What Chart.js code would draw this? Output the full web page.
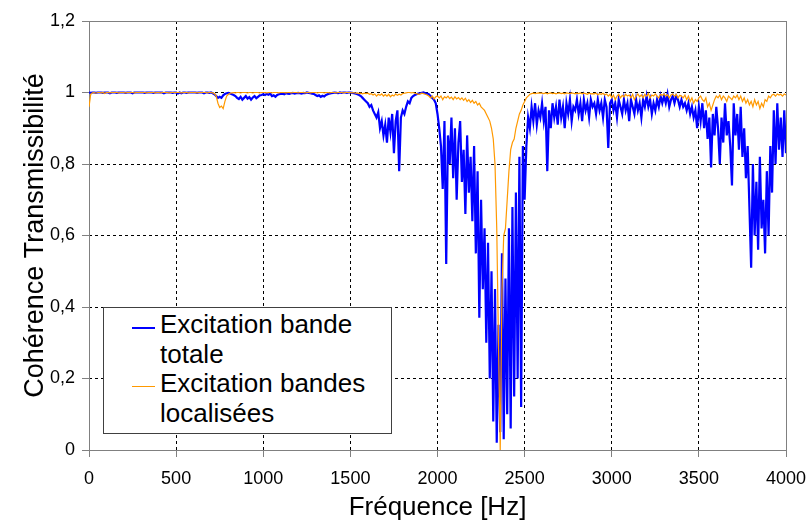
<!DOCTYPE html>
<html>
<head>
<meta charset="utf-8">
<script src="https://cdn.jsdelivr.net/npm/chart.js@4/dist/chart.umd.min.js"></script>
<style>
  html, body { margin: 0; padding: 0; background: #fff; }
  #wrap { position: relative; width: 807px; height: 524px; }
  #legend {
    position: absolute; left: 103px; top: 307px; width: 287px; height: 125px;
    border: 1px solid #404040; background: #fff;
    font-family: "Liberation Sans", Arial, sans-serif; font-size: 26px; color: #000;
  }
  #legend .txt { position: absolute; left: 56px; top: 2px; line-height: 29.5px; white-space: nowrap; }
  #legend .sw { position: absolute; left: 28px; width: 23px; }
</style>
</head>
<body>
<div id="wrap">
  <canvas id="c" width="807" height="524"></canvas>
  <div id="legend">
    <div class="sw" style="top:19px;height:2px;background:#0000ff;"></div>
    <div class="sw" style="top:78px;height:1px;background:#ff9900;"></div>
    <div class="txt">Excitation bande<br>totale<br>Excitation bandes<br>localisées</div>
  </div>
</div>
<script>
// Frequency axis (Hz), one sample every 10 Hz from 0 to 4000
const frequencies = [];
for (let f = 0; f <= 4000; f += 10) frequencies.push(f);

// Coherence, "Excitation bande totale" (rows of 100 Hz)
const bandeTotale = [
  1.0, 0.999, 1.0, 1.0, 0.999, 1.0, 1.0, 1.0, 0.999, 1.0,
  1.0, 1.0, 0.998, 1.0, 1.0, 1.0, 0.999, 1.0, 1.0, 1.0,
  1.0, 0.999, 1.0, 1.0, 1.0, 0.998, 1.0, 1.0, 1.0, 1.0,
  1.0, 1.0, 0.999, 1.0, 1.0, 1.0, 1.0, 0.999, 1.0, 1.0,
  1.0, 1.0, 1.0, 0.998, 1.0, 1.0, 1.0, 1.0, 0.999, 1.0,
  1.0, 0.997, 1.0, 0.998, 1.0, 1.0, 0.999, 1.0, 1.0, 1.0,
  1.0, 1.0, 0.999, 1.0, 1.0, 1.0, 0.998, 1.0, 1.0, 0.999,
  1.0, 0.998, 0.995, 0.99, 0.985, 0.988, 0.985, 0.992, 0.996, 0.998,
  0.999, 0.997, 0.995, 0.993, 0.99, 0.985, 0.982, 0.988, 0.98, 0.985,
  0.99, 0.983, 0.987, 0.98, 0.986, 0.99, 0.984, 0.988, 0.992, 0.993,
  0.995, 0.993, 0.996, 0.994, 0.997, 0.99, 0.992, 0.988, 0.993, 0.995,
  0.996, 0.997, 0.995, 0.998, 0.997, 0.996, 0.998, 0.999, 0.997, 0.998,
  0.999, 0.998, 0.997, 0.999, 0.998, 1.0, 0.999, 0.998, 0.997, 0.996,
  0.993, 0.99, 0.992, 0.988, 0.991, 0.989, 0.993, 0.995, 0.997, 0.998,
  0.999, 1.0, 0.999, 0.998, 1.0, 0.999, 1.0, 1.0, 0.999, 1.0,
  1.0, 0.999, 0.998, 0.997, 0.995, 0.993, 0.99, 0.985, 0.98, 0.975,
  0.97, 0.96, 0.965, 0.95, 0.94, 0.93, 0.945, 0.9, 0.92, 0.88,
  0.91, 0.86, 0.93, 0.89, 0.94, 0.83, 0.92, 0.95, 0.78, 0.93,
  0.95, 0.94, 0.96, 0.975, 0.97, 0.985, 0.99, 0.993, 0.995, 0.997,
  0.998, 0.999, 1.0, 0.998, 0.997, 0.995, 0.99, 0.985, 0.98, 0.97,
  0.94, 0.9, 0.85, 0.73, 0.92, 0.52, 0.88, 0.8, 0.93, 0.76,
  0.9, 0.7, 0.86, 0.92, 0.75, 0.84, 0.66, 0.88, 0.72, 0.82,
  0.64, 0.85, 0.55, 0.78, 0.37, 0.7, 0.45, 0.62, 0.3, 0.58,
  0.2, 0.5, 0.08, 0.45, 0.02, 0.35, 0.05, 0.55, 0.03, 0.48,
  0.1, 0.62, 0.06, 0.68, 0.15, 0.72, 0.2, 0.82, 0.12, 0.85,
  0.7, 0.85, 0.93, 0.9, 0.96, 0.92, 0.97, 0.91, 0.95, 0.93,
  0.97, 0.92, 0.96, 0.78, 0.95, 0.9, 0.97, 0.93, 0.96, 0.91,
  0.98, 0.93, 0.96, 0.9, 0.97, 0.94, 0.98, 0.92, 0.96, 0.95,
  0.98, 0.94, 0.97, 0.92, 0.98, 0.95, 0.97, 0.93, 0.98, 0.96,
  0.97, 0.94, 0.98, 0.95, 0.97, 0.93, 0.98, 0.96, 0.845, 0.97,
  0.98, 0.95, 0.97, 0.93, 0.98, 0.96, 0.94, 0.98, 0.95, 0.97,
  0.92, 0.98, 0.96, 0.94, 0.98, 0.95, 0.97, 0.93, 0.98, 0.96,
  0.99, 0.96, 0.98, 0.94, 0.97, 0.95, 0.98, 0.96, 0.99, 0.97,
  0.99, 0.97, 0.995, 0.96, 0.98, 0.99, 0.97, 0.99, 0.98, 0.96,
  0.98, 0.96, 0.97, 0.95, 0.97, 0.94, 0.96, 0.93, 0.95, 0.9,
  0.96, 0.92, 0.97, 0.9, 0.95, 0.87, 0.93, 0.79, 0.94, 0.88,
  0.96, 0.9, 0.8, 0.93, 0.86, 0.97, 0.88, 0.92, 0.85, 0.74,
  0.97, 0.88, 0.94, 0.84, 0.96, 0.82, 0.9, 0.76, 0.85, 0.68,
  0.51, 0.8, 0.6, 0.75, 0.56, 0.82, 0.62, 0.7, 0.55, 0.78,
  0.6, 0.85, 0.72, 0.95, 0.8, 0.97, 0.84, 0.93, 0.82, 0.95,
  0.83
];

// Coherence, "Excitation bandes localisées" (rows of 100 Hz)
const bandesLocalisees = [
  0.96, 0.995, 0.999, 1.0, 0.998, 1.0, 1.0, 0.999, 1.0, 0.997,
  1.0, 1.0, 0.999, 1.0, 1.0, 1.0, 1.0, 0.999, 1.0, 1.0,
  1.0, 0.999, 1.0, 1.0, 1.0, 1.0, 0.999, 1.0, 1.0, 1.0,
  1.0, 1.0, 1.0, 0.999, 1.0, 1.0, 1.0, 1.0, 0.999, 1.0,
  1.0, 0.999, 1.0, 1.0, 1.0, 1.0, 0.999, 1.0, 1.0, 1.0,
  1.0, 1.0, 1.0, 0.999, 1.0, 1.0, 1.0, 0.999, 1.0, 1.0,
  1.0, 1.0, 0.999, 1.0, 1.0, 1.0, 1.0, 1.0, 0.999, 1.0,
  1.0, 0.999, 0.997, 0.99, 0.97, 0.958, 0.962, 0.955, 0.975, 0.99,
  0.995, 0.998, 0.999, 1.0, 0.999, 1.0, 1.0, 0.999, 1.0, 1.0,
  1.0, 0.999, 1.0, 1.0, 0.999, 1.0, 1.0, 1.0, 0.999, 1.0,
  1.0, 1.0, 0.999, 1.0, 1.0, 0.999, 1.0, 1.0, 1.0, 0.999,
  1.0, 1.0, 1.0, 0.999, 1.0, 1.0, 0.999, 1.0, 1.0, 1.0,
  0.999, 1.0, 1.0, 1.0, 0.999, 1.0, 1.0, 0.999, 1.0, 1.0,
  1.0, 0.999, 1.0, 1.0, 1.0, 0.999, 1.0, 1.0, 0.999, 1.0,
  1.0, 1.0, 0.999, 1.0, 1.0, 1.0, 0.999, 1.0, 1.0, 1.0,
  1.0, 0.999, 1.0, 0.998, 0.999, 0.997, 0.998, 0.996, 0.998, 0.997,
  0.998, 0.995, 0.997, 0.993, 0.996, 0.99, 0.995, 0.992, 0.996, 0.99,
  0.994, 0.99, 0.995, 0.988, 0.993, 0.99, 0.996, 0.992, 0.995, 0.993,
  0.997, 0.998, 0.999, 1.0, 1.0, 0.999, 1.0, 0.998, 0.997, 0.995,
  0.996, 0.998, 0.997, 0.995, 0.993, 0.99, 0.985, 0.99, 0.982, 0.988,
  0.99, 0.985, 0.99, 0.98, 0.988, 0.985, 0.99, 0.983, 0.987, 0.98,
  0.988, 0.982, 0.986, 0.98, 0.985, 0.978, 0.984, 0.975, 0.98, 0.972,
  0.978, 0.97, 0.975, 0.965, 0.97, 0.96, 0.955, 0.95, 0.94, 0.93,
  0.92, 0.9, 0.87, 0.8, 0.62, 0.3, 0.0, 0.45, 0.6, 0.62,
  0.7, 0.78, 0.84, 0.86, 0.87, 0.9, 0.92, 0.94, 0.95, 0.965,
  0.975, 0.985, 0.99, 0.995, 0.997, 0.998, 0.997, 0.998, 0.999, 0.998,
  0.998, 0.997, 0.999, 0.996, 0.998, 0.999, 0.997, 0.998, 0.996, 0.998,
  0.999, 0.997, 0.998, 0.996, 0.999, 0.998, 0.997, 0.999, 0.998, 0.996,
  0.998, 0.997, 0.999, 0.996, 0.998, 0.997, 0.995, 0.998, 0.996, 0.997,
  0.996, 0.998, 0.994, 0.997, 0.995, 0.998, 0.993, 0.996, 0.99, 0.995,
  0.985, 0.993, 0.98, 0.99, 0.995, 0.985, 0.992, 0.988, 0.995, 0.99,
  0.993, 0.985, 0.995, 0.98, 0.99, 0.996, 0.988, 0.993, 0.985, 0.995,
  0.99, 0.997, 0.985, 0.993, 0.99, 0.996, 0.99, 0.985, 0.995, 0.992,
  0.996, 0.99, 0.994, 0.985, 0.993, 0.996, 0.99, 0.995, 0.985, 0.992,
  0.99, 0.985, 0.993, 0.98, 0.99, 0.975, 0.985, 0.97, 0.98, 0.975,
  0.985, 0.99, 0.98, 0.975, 0.985, 0.96, 0.97, 0.95, 0.965, 0.98,
  0.99, 0.985, 0.993, 0.98, 0.99, 0.985, 0.975, 0.99, 0.985, 0.98,
  0.99, 0.985, 0.993, 0.98, 0.99, 0.975, 0.985, 0.97, 0.98, 0.965,
  0.975, 0.96, 0.98, 0.965, 0.975, 0.955, 0.97, 0.96, 0.98, 0.975,
  0.99, 0.985, 0.993, 0.995, 0.99, 0.996, 0.993, 0.995, 0.99, 0.996,
  0.993
];

const seriesNames = ["Excitation bande totale", "Excitation bandes localisées"];
const xTitle = "Fréquence [Hz]";
const yTitle = "Cohérence Transmissibilité";

const FONT = '"Liberation Sans", Arial, sans-serif';

const frame = {
  id: 'frame',
  beforeDatasetsDraw(chart) {
    const {ctx, chartArea: a} = chart;
    ctx.save();
    ctx.strokeStyle = '#808080';
    ctx.lineWidth = 1;
    const l = Math.round(a.left) + 0.5, r = Math.round(a.right) + 0.5;
    const t = Math.round(a.top) + 0.5, b = Math.round(a.bottom) + 0.5;
    ctx.strokeRect(l, t, r - l, b - t);
    ctx.restore();
  }
};

const gridColor = (c) => {
  const n = c.scale.ticks.length;
  return (c.index === 0 || c.index === n - 1) ? 'rgba(0,0,0,0)' : '#000000';
};

new Chart(document.getElementById('c'), {
  type: 'line',
  data: {
    labels: frequencies,
    datasets: [
      {
        label: seriesNames[1],
        data: bandesLocalisees,
        borderColor: '#ff9900',
        borderWidth: 1.2,
        pointRadius: 0,
        tension: 0,
        order: 0
      },
      {
        label: seriesNames[0],
        data: bandeTotale,
        borderColor: '#0000ff',
        borderWidth: 2.2,
        pointRadius: 0,
        tension: 0,
        order: 1
      }
    ]
  },
  options: {
    responsive: false,
    animation: false,
    devicePixelRatio: 1,
    layout: { padding: { left: 0, right: 21, top: 21, bottom: 0 } },
    plugins: { legend: { display: false }, tooltip: { enabled: false } },
    scales: {
      x: {
        type: 'linear',
        min: 0, max: 4000,
        afterFit: (s) => { s.height = 74; s.paddingLeft = 0; s.paddingRight = 0; },
        ticks: {
          stepSize: 500,
          color: '#000',
          padding: 11,
          font: { family: FONT, size: 18 },
          maxRotation: 0,
          callback: (v) => String(Math.round(v))
        },
        grid: {
          color: gridColor,
          lineWidth: 1,
          tickLength: 7,
          tickColor: '#808080'
        },
        border: { display: false, dash: [3, 3] },
        title: {
          display: true,
          text: xTitle,
          color: '#000',
          font: { family: FONT, size: 26 },
          padding: { top: 0, bottom: 1 }
        }
      },
      y: {
        min: 0, max: 1.2,
        afterFit: (s) => { s.width = 89; s.paddingTop = 0; s.paddingBottom = 0; },
        ticks: {
          stepSize: 0.2,
          color: '#000',
          padding: 7,
          font: { family: FONT, size: 18 },
          callback: (v) => String(Math.round(v * 10) / 10).replace('.', ',')
        },
        grid: {
          color: gridColor,
          lineWidth: 1,
          tickLength: 7,
          tickColor: '#808080'
        },
        border: { display: false, dash: [3, 3] },
        title: {
          display: true,
          text: yTitle,
          color: '#000',
          font: { family: FONT, size: 27 },
          padding: { top: 19, bottom: 0 }
        }
      }
    }
  },
  plugins: [frame]
});
</script>
</body>
</html>
